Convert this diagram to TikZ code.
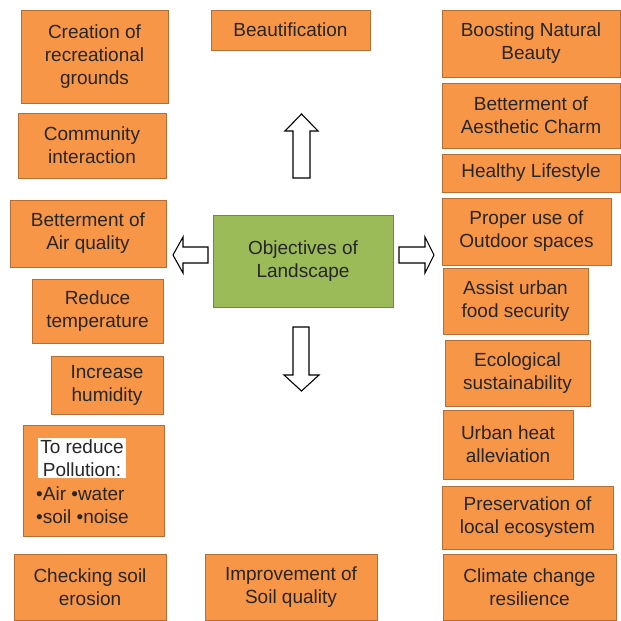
\documentclass[tikz,border=0pt]{standalone}
\usepackage{fontspec}
\setmainfont{Liberation Sans}
\usepackage{xcolor}
\usepackage{tikz}
\usetikzlibrary{positioning}

\definecolor{goalfill}{HTML}{F79646}
\definecolor{goaldraw}{HTML}{B66D31}
\definecolor{hubfill}{HTML}{9BBB59}
\definecolor{hubdraw}{HTML}{71893F}
\definecolor{inktext}{HTML}{262626}

\begin{document}
\begin{tikzpicture}[
x=1pt, y=-1pt,
font=\fontsize{19}{23}\selectfont,
box/.style={draw, line width=1pt, align=center, inner sep=0pt, text=inktext},
goal/.style={box, fill=goalfill, draw=goaldraw},
hub/.style={box, fill=hubfill, draw=hubdraw},
blockarr/.style={draw=black, line width=1.1pt, fill=white, line join=miter}
]
\useasboundingbox (0,0) rectangle (621,621);

% Central objective
\node[hub, minimum width=180pt, minimum height=92pt] (obj) at (303,261)
{Objectives of\\Landscape};

% Left column
\node[goal, minimum width=147pt, minimum height=93pt] (crea) at (94.5,56.5)
{Creation of\\recreational\\grounds};
\node[goal, minimum width=148pt, minimum height=65pt] (comm) at (92,145.5)
{Community\\interaction};
\node[goal, minimum width=156pt, minimum height=67pt] (air) at (88,233.5)
{Betterment of\\Air quality};
\node[goal, minimum width=131pt, minimum height=64pt] (temp) at (97.5,311)
{Reduce\\temperature};
\node[goal, minimum width=112pt, minimum height=58pt] (humid) at (107,385)
{Increase\\humidity};
\node[goal, minimum width=141pt, minimum height=111pt] (poll) at (93.5,480.5) {};
\node[fill=white, inner sep=2pt, align=center, text=inktext] (polltitle) at (82,458)
{To reduce\\Pollution:};
\node[align=left, inner sep=0pt, text=inktext] (pollitems) at (82.5,505)
{•Air •water\\•soil •noise};
\node[goal, minimum width=152pt, minimum height=66pt] (erosion) at (90,587)
{Checking soil\\erosion};

% Middle column
\node[goal, minimum width=159pt, minimum height=40pt] (beauty) at (290.5,30)
{Beautification};
\node[goal, minimum width=172pt, minimum height=66pt] (soilq) at (291,587)
{Improvement of\\Soil quality};

% Right column
\node[goal, minimum width=178pt, minimum height=67pt] (natural) at (531,43.5)
{Boosting Natural\\Beauty};
\node[goal, minimum width=178pt, minimum height=65pt] (charm) at (531,115.5)
{Betterment of\\Aesthetic Charm};
\node[goal, minimum width=178pt, minimum height=38pt] (health) at (531,173)
{Healthy Lifestyle};
\node[goal, minimum width=169pt, minimum height=67pt] (outdoor) at (526.5,231.5)
{Proper use of\\Outdoor spaces};
\node[goal, minimum width=145pt, minimum height=66pt] (food) at (515.5,301)
{Assist urban\\food security};
\node[goal, minimum width=145pt, minimum height=66pt] (eco) at (517.5,373)
{Ecological\\sustainability};
\node[goal, minimum width=130pt, minimum height=69pt] (heat) at (508,444.5)
{Urban heat\\alleviation};
\node[goal, minimum width=171pt, minimum height=63pt] (ecosys) at (527.5,517.5)
{Preservation of\\local ecosystem};
\node[goal, minimum width=173pt, minimum height=66pt] (climate) at (529.5,587)
{Climate change\\resilience};

% Hollow block arrows around the centre
\draw[blockarr] (293,178) -- (293,131) -- (285,131) -- (301.5,114)
  -- (318,131) -- (310,131) -- (310,178) -- cycle;
\draw[blockarr] (293,327) -- (293,375) -- (284,375) -- (301.5,391)
  -- (319,375) -- (309,375) -- (309,327) -- cycle;
\draw[blockarr] (208,247) -- (183,247) -- (183,237) -- (173,255)
  -- (183,273) -- (183,263) -- (208,263) -- cycle;
\draw[blockarr] (399,247) -- (425,247) -- (425,237) -- (434,255)
  -- (425,273) -- (425,263) -- (399,263) -- cycle;

\end{tikzpicture}
\end{document}
